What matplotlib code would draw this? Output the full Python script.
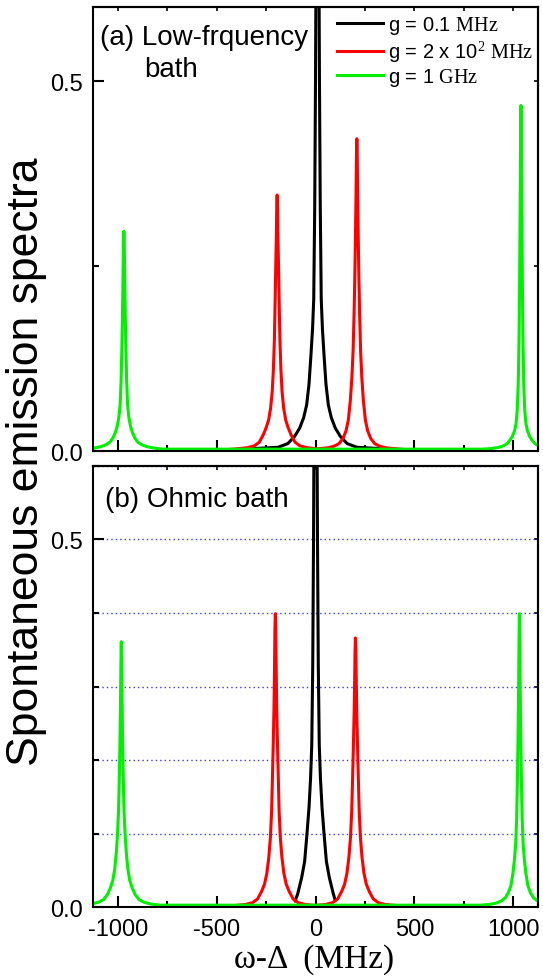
import matplotlib
matplotlib.use("Agg")
import matplotlib.pyplot as plt
from matplotlib.ticker import MultipleLocator

plt.rcParams["font.family"] = ["Liberation Sans", "DejaVu Sans"]
plt.rcParams["mathtext.fontset"] = "custom"
plt.rcParams["mathtext.rm"] = "Liberation Serif"
plt.rcParams["axes.unicode_minus"] = False

# distance from a peak centre (MHz) at which each peak profile was read
OFFS = [0, 2, 4, 7, 10, 14, 19, 25, 33, 43, 55, 70, 90, 115, 150, 200]

# (a) low-frequency bath: peak centres (MHz) and spectrum read at OFFS
A_BLACK_C = [10]
A_BLACK_V = [[3.0, 1.6, 1.0, 0.68, 0.5, 0.33, 0.205, 0.165, 0.13, 0.09, 0.062, 0.045, 0.031, 0.02, 0.01, 0.005]]
A_BLACK_ENDS = ([-500, 500], 0.0008)
A_RED_C = [-194, 209]
A_RED_V = [[0.346, 0.33, 0.29, 0.25, 0.205, 0.15, 0.11, 0.08, 0.058, 0.042, 0.032, 0.022, 0.012, 0.007, 0.0045, 0.003],
           [0.422, 0.4, 0.35, 0.29, 0.24, 0.185, 0.135, 0.1, 0.068, 0.042, 0.027, 0.017, 0.01, 0.0065, 0.0042, 0.003]]
A_RED_ENDS = ([-500, 500], 0.0008)
A_GREEN_C = [-969, 1039]
A_GREEN_V = [[0.297, 0.28, 0.24, 0.185, 0.14, 0.095, 0.062, 0.046, 0.034, 0.025, 0.018, 0.012, 0.0085, 0.006, 0.004, 0.0025],
             [0.467, 0.42, 0.34, 0.23, 0.15, 0.09, 0.055, 0.037, 0.027, 0.02, 0.015, 0.01, 0.0068, 0.0048, 0.0033, 0.0025]]
A_GREEN_ENDS = ([-1200, 1250], 0.002)

# (b) Ohmic bath
B_BLACK_X = [-103, -90, -70, -55, -43, -33, -25, -19, -14, -10, -7, -4, -2, 0,
             2, 4, 7, 10, 14, 19, 25, 33, 43, 55, 70, 90, 100]
B_BLACK_Y = [0.008, 0.018, 0.04, 0.062, 0.1, 0.135, 0.175, 0.22, 0.33, 0.5, 0.68, 1.0, 1.6, 3.0,
             1.6, 1.0, 0.68, 0.5, 0.33, 0.22, 0.175, 0.135, 0.1, 0.062, 0.04, 0.018, 0.009]
B_RED_C = [-203, 202]
B_RED_V = [[0.399, 0.38, 0.33, 0.27, 0.23, 0.185, 0.13, 0.095, 0.068, 0.046, 0.031, 0.021, 0.011, 0.006, 0.0035, 0.0022],
           [0.366, 0.35, 0.31, 0.26, 0.225, 0.18, 0.13, 0.095, 0.068, 0.046, 0.031, 0.021, 0.011, 0.006, 0.0035, 0.0022]]
B_RED_ENDS = ([-500, 500], 0.001)
B_GREEN_C = [-982, 1031]
B_GREEN_V = [[0.361, 0.33, 0.28, 0.22, 0.175, 0.13, 0.1, 0.075, 0.052, 0.036, 0.026, 0.017, 0.01, 0.0065, 0.004, 0.0025],
             [0.399, 0.36, 0.3, 0.23, 0.175, 0.12, 0.085, 0.065, 0.045, 0.029, 0.02, 0.013, 0.0085, 0.0055, 0.0035, 0.0025]]
B_GREEN_ENDS = ([-1200, 1250], 0.002)

LABELS = ["g = 0.1 $\\mathrm{MHz}$", "g = 2 x 10$^2$ $\\mathrm{MHz}$", "g = 1 $\\mathrm{GHz}$"]
COLORS = ["black", "#ff0000", "#00f000"]
FS = 14.5
TICK_FS = 17


def assemble(centres, values, ends):
    """Join the mirrored peak profiles into one polyline."""
    (x0, x1), base = ends
    xs, ys = [x0], [base]
    for c, vals in zip(centres, values):
        offs = OFFS[:len(vals)]
        xs += [c - o for o in offs[::-1]] + [c + o for o in offs[1:]]
        ys += vals[::-1] + vals[1:]
    xs.append(x1)
    ys.append(base)
    return xs, ys


def style(ax, yminor, show_x):
    ax.set_xlim(-1125, 1125)
    ax.set_ylim(0, 0.6)
    ax.xaxis.set_major_locator(MultipleLocator(500))
    ax.xaxis.set_minor_locator(MultipleLocator(250))
    ax.yaxis.set_major_locator(MultipleLocator(0.5))
    ax.yaxis.set_minor_locator(MultipleLocator(yminor))
    ax.tick_params(which="both", direction="in", width=1.5, labelsize=TICK_FS)
    ax.tick_params(which="major", length=8)
    ax.tick_params(which="minor", length=4)
    ax.tick_params(axis="y", pad=7)
    ax.tick_params(axis="x", pad=8, labelbottom=show_x)
    for s in ax.spines.values():
        s.set_linewidth(1.5)
    top = ax.secondary_xaxis("top")
    top.xaxis.set_major_locator(MultipleLocator(500))
    top.xaxis.set_minor_locator(MultipleLocator(250))
    top.tick_params(which="both", direction="in", length=3, width=1.2, labeltop=False)
    top.spines["top"].set_linewidth(1.5)
    right = ax.secondary_yaxis("right")
    right.yaxis.set_major_locator(MultipleLocator(0.5))
    right.yaxis.set_minor_locator(MultipleLocator(yminor))
    right.tick_params(which="both", direction="in", length=3, width=1.2, labelright=False)
    right.spines["right"].set_linewidth(1.5)


fig = plt.figure(figsize=(5.43, 9.79), dpi=100)
ax_a = fig.add_axes([0.1713, 0.5383, 0.8195, 0.4535])
ax_b = fig.add_axes([0.1713, 0.0725, 0.8195, 0.4505])

series_a = [assemble(A_BLACK_C, A_BLACK_V, A_BLACK_ENDS),
            assemble(A_RED_C, A_RED_V, A_RED_ENDS),
            assemble(A_GREEN_C, A_GREEN_V, A_GREEN_ENDS)]
series_b = [(B_BLACK_X, B_BLACK_Y),
            assemble(B_RED_C, B_RED_V, B_RED_ENDS),
            assemble(B_GREEN_C, B_GREEN_V, B_GREEN_ENDS)]
for (x, y), c, lab in zip(series_a, COLORS, LABELS):
    ax_a.plot(x, y, color=c, lw=2.2, label=lab)
for (x, y), c in zip(series_b, COLORS):
    ax_b.plot(x, y, color=c, lw=2.2, solid_capstyle="round")

style(ax_a, 0.25, False)
style(ax_b, 0.1, True)
ax_b.grid(axis="y", which="both", color="#3a3aff", lw=1.0, ls=(0, (1, 2.2)))
ax_b.set_axisbelow(True)

ax_a.legend(loc="upper left", bbox_to_anchor=(0.548, 0.985), frameon=False, fontsize=FS,
            handlelength=2.3, handletextpad=0.25, labelspacing=0.12, borderpad=0, borderaxespad=0)

ax_a.text(0.0157, 0.9167, "(a) Low-frquency", transform=ax_a.transAxes, fontsize=20, va="baseline")
ax_a.text(0.1146, 0.8446, "bath", transform=ax_a.transAxes, fontsize=20, va="baseline")
ax_b.text(0.027, 0.909, "(b) Ohmic bath", transform=ax_b.transAxes, fontsize=20, va="baseline")

fig.text(0.048, 0.528, "Spontaneous emission spectra", rotation=90, fontsize=32, ha="center", va="center")
fig.text(0.578, 0.0045, "ω-Δ  (MHz)", fontsize=24, ha="center", va="bottom",
         family=["Liberation Serif", "DejaVu Serif"])

fig.savefig("out.png", dpi=100)
